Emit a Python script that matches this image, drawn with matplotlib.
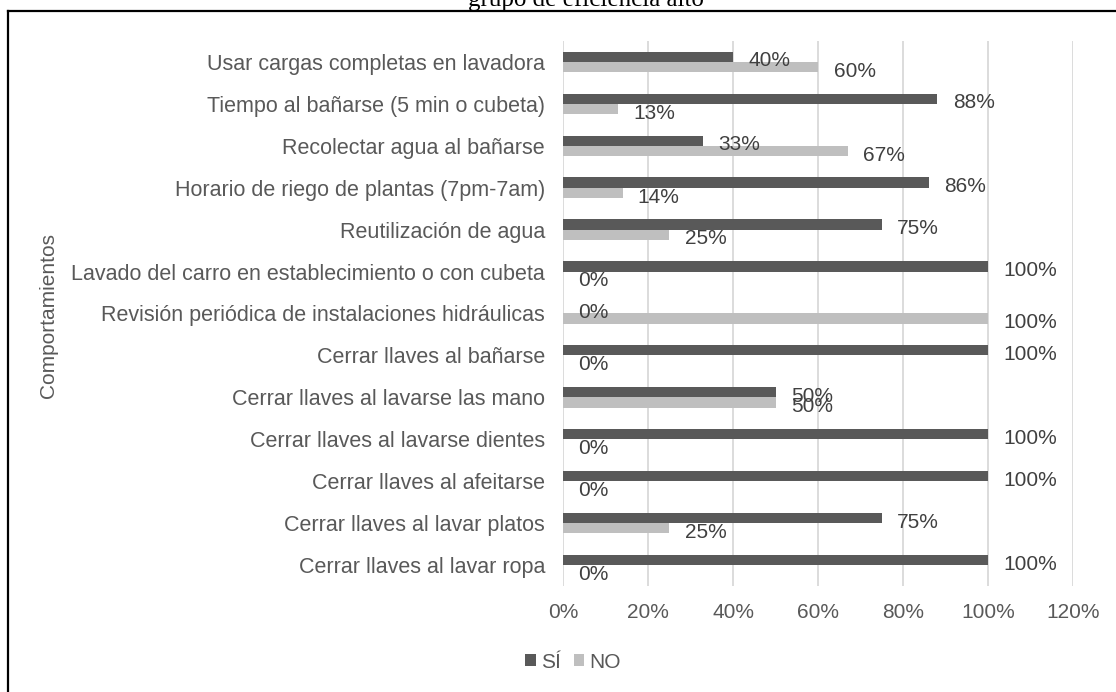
import matplotlib
matplotlib.use("Agg")
import matplotlib.pyplot as plt
from matplotlib.lines import Line2D
from matplotlib.ticker import FuncFormatter

# Behaviours, listed top to bottom
categories = [
    "Usar cargas completas en lavadora",
    "Tiempo al bañarse (5 min o cubeta)",
    "Recolectar agua al bañarse",
    "Horario de riego de plantas (7pm-7am)",
    "Reutilización de agua",
    "Lavado del carro en establecimiento o con cubeta",
    "Revisión periódica de instalaciones hidráulicas",
    "Cerrar llaves al bañarse",
    "Cerrar llaves al lavarse las mano",
    "Cerrar llaves al lavarse dientes",
    "Cerrar llaves al afeitarse",
    "Cerrar llaves al lavar platos",
    "Cerrar llaves al lavar ropa",
]
si_values = [40, 88, 33, 86, 75, 100, 0, 100, 50, 100, 100, 75, 100]
no_values = [60, 13, 67, 14, 25, 0, 100, 0, 50, 0, 0, 25, 0]
series_names = ["SÍ", "NO"]
x_ticks = [0, 20, 40, 60, 80, 100, 120]

DARK = "#595959"
LIGHT = "#BFBFBF"
GRID = "#D9D9D9"
TEXT = "#595959"
LABEL = "#404040"
FONT = "Liberation Sans"
FS = 15

plt.rcParams["font.family"] = [FONT, "DejaVu Sans"]

fig = plt.figure(figsize=(11.16, 6.92), dpi=100)
ax = fig.add_axes([0.5045, 0.1532, 0.4574, 0.7876])

bar_h = 0.245
ys = list(range(len(categories)))
y_si = [y - bar_h / 2 for y in ys]
y_no = [y + bar_h / 2 for y in ys]

bars_si = ax.barh(y_si, si_values, height=bar_h, color=DARK, zorder=3, label=series_names[0])
bars_no = ax.barh(y_no, no_values, height=bar_h, color=LIGHT, zorder=3, label=series_names[1])

# value labels just past the end of each bar
for yy, v in zip(y_si, si_values):
    ax.annotate(f"{v}%", xy=(v, yy), xytext=(11, -3), textcoords="offset points",
                ha="left", va="center", fontsize=FS, color=LABEL, zorder=4)
for yy, v in zip(y_no, no_values):
    ax.annotate(f"{v}%", xy=(v, yy), xytext=(11, -3), textcoords="offset points",
                ha="left", va="center", fontsize=FS, color=LABEL, zorder=4)

ax.set_xlim(0, 120)
ax.set_ylim(len(categories) - 0.5, -0.5)
ax.set_xticks(x_ticks)
ax.xaxis.set_major_formatter(FuncFormatter(lambda v, p: f"{v:.0f}%"))
ax.set_yticks(ys)
ax.set_yticklabels(categories, fontsize=15.5)

ax.grid(axis="x", color=GRID, linewidth=1.3, zorder=0)
ax.set_axisbelow(True)
for s in ax.spines.values():
    s.set_visible(False)
ax.tick_params(axis="both", length=0, labelcolor=TEXT)
ax.tick_params(axis="x", pad=12, labelsize=FS)
ax.tick_params(axis="y", pad=13)

fig.text(49 / 1116, 1 - 316 / 692, "Comportamientos", rotation=90,
         ha="center", va="center", fontsize=FS, color=TEXT)

leg = fig.legend(handles=[bars_si, bars_no], labels=series_names, loc="center",
                 bbox_to_anchor=(573 / 1116, 1 - 662 / 692), ncol=2, frameon=False,
                 fontsize=FS, handlelength=0.5, handleheight=0.5,
                 handletextpad=0.25, columnspacing=0.6)
for t in leg.get_texts():
    t.set_color(TEXT)

# title sitting above the frame
fig.text(586 / 1116, 1 - 6 / 692, "grupo de eficiencia alto", ha="center",
         va="baseline", fontsize=18, family="Liberation Serif", color="black")

# frame lines (left and top)
fig.add_artist(Line2D([7.5 / 1116, 7.5 / 1116], [0, 1 - 11 / 692],
                      transform=fig.transFigure, color="black", lw=1.6,
                      solid_capstyle="projecting"))
fig.add_artist(Line2D([7.5 / 1116, 1], [1 - 11 / 692, 1 - 11 / 692],
                      transform=fig.transFigure, color="black", lw=1.6,
                      solid_capstyle="projecting"))

fig.savefig("out.png", dpi=100, facecolor="white")
